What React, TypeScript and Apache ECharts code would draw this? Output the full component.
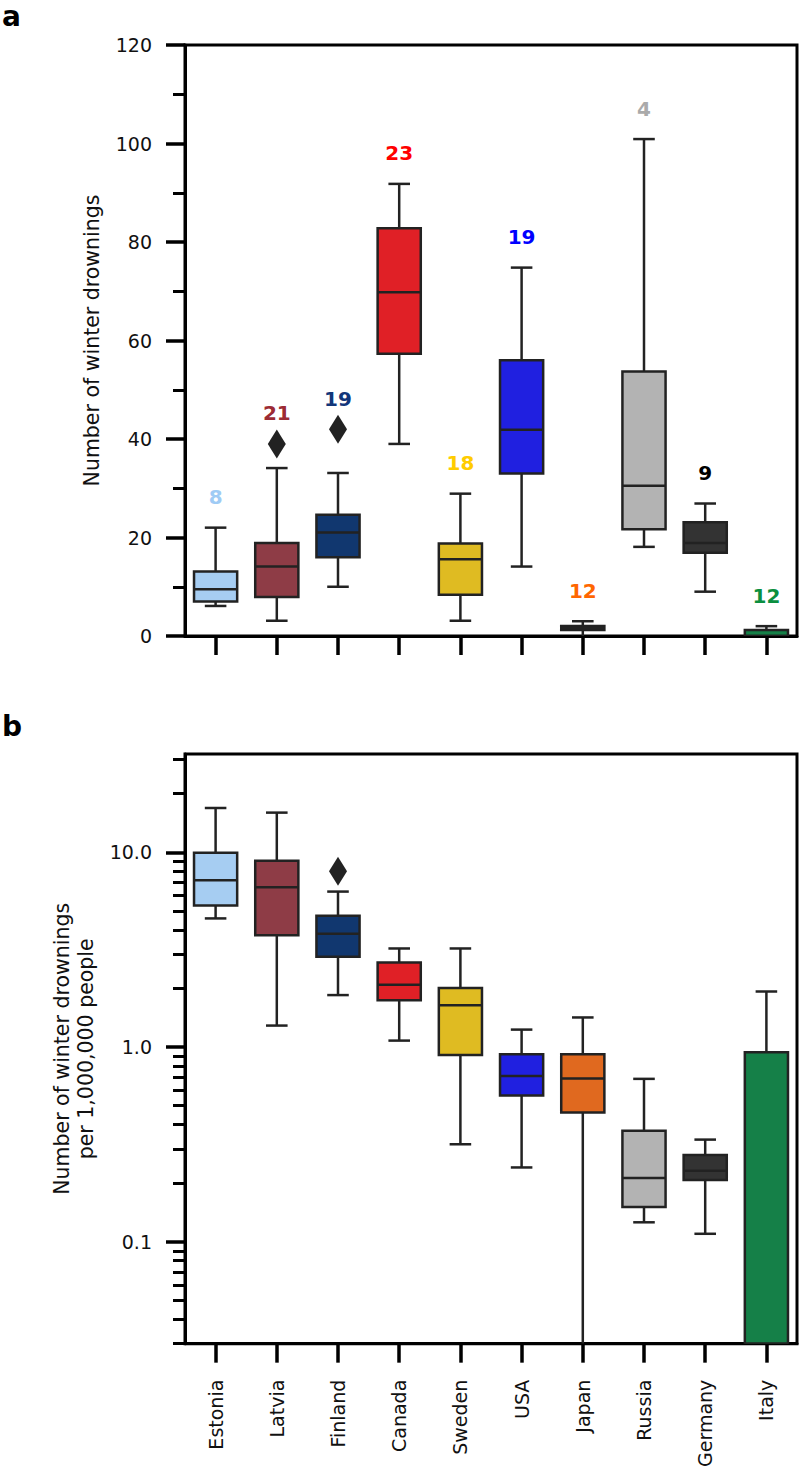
import { useEffect, useRef } from "react";
import * as echarts from "echarts";

const countries = ["Estonia", "Latvia", "Finland", "Canada", "Sweden", "USA", "Japan", "Russia", "Germany", "Italy"];
const boxColors = ["#a6cdf2", "#8e3c46", "#11376f", "#e02026", "#dfbb22", "#2020e0", "#e0691f", "#b3b3b3", "#333333", "#158048"];
const labelColors = ["#9fcbf5", "#9c2b34", "#12367a", "#ff0000", "#ffcc00", "#0000ff", "#ff6600", "#aaaaaa", "#000000", "#0b8f3f"];
const sampleCounts = [8, 21, 19, 23, 18, 19, 12, 4, 9, 12];

// Panel a: number of winter drownings
const drowningsMin = [6.1, 3.1, 10.0, 39.0, 3.1, 14.1, 0, 18.1, 9.0, 0];
const drowningsQ1 = [7.0, 7.9, 16.0, 57.3, 8.4, 33.0, 1.2, 21.7, 16.9, 0];
const drowningsMedian = [9.5, 14.1, 21.0, 69.8, 15.6, 41.9, 1.6, 30.5, 18.9, 0];
const drowningsQ3 = [13.1, 18.9, 24.6, 82.8, 18.8, 56.0, 2.05, 53.7, 23.1, 1.2];
const drowningsMax = [22.0, 34.1, 33.1, 91.8, 28.9, 74.8, 3.0, 100.9, 26.9, 2.0];
const drowningsOutlierCountries = ["Latvia", "Finland"];
const drowningsOutlierValues = [39.0, 42.0];
const drowningsTicks = { min: 0, max: 120, interval: 20 };

// Panel b: winter drownings per 1,000,000 people (log scale)
const rateMin = [4.58, 1.29, 1.85, 1.08, 0.317, 0.241, 0, 0.126, 0.11, 0];
const rateQ1 = [5.33, 3.75, 2.91, 1.74, 0.91, 0.565, 0.461, 0.151, 0.208, 0];
const rateMedian = [7.2, 6.62, 3.82, 2.09, 1.64, 0.71, 0.69, 0.213, 0.232, 0];
const rateQ3 = [9.95, 9.05, 4.73, 2.72, 2.01, 0.918, 0.92, 0.372, 0.279, 0.94];
const rateMax = [16.9, 16.0, 6.29, 3.21, 3.21, 1.23, 1.42, 0.687, 0.335, 1.93];
const rateOutlierCountries = ["Finland"];
const rateOutlierValues = [8.0];
const rateAxisMin = 0.03;
const rateAxisMax = 32;
const logMajorTicks = [0.1, 1, 10];
const logMinorTicks = [
  0.03, 0.04, 0.05, 0.06, 0.07, 0.08, 0.09,
  0.2, 0.3, 0.4, 0.5, 0.6, 0.7, 0.8, 0.9,
  2, 3, 4, 5, 6, 7, 8, 9,
  20, 30,
];

const FONT = "DejaVu Sans";
const EDGE = "#222222";
const TICK_FONT = 19;
const TITLE_FONT = 20.5;

function makeRenderItem(floor: number) {
  return (params: any, api: any) => {
    const i = api.value(0);
    const lo = api.value(1);
    const q1 = api.value(2);
    const med = api.value(3);
    const q3 = api.value(4);
    const hi = api.value(5);
    const pLo = api.coord([i, lo]);
    const pQ1 = api.coord([i, q1]);
    const pMed = api.coord([i, med]);
    const pQ3 = api.coord([i, q3]);
    const pHi = api.coord([i, hi]);
    const band = Math.abs(api.coord([1, q3])[0] - api.coord([0, q3])[0]);
    const bw = band * 0.705;
    const cw = bw / 2;
    const cx = pQ1[0];
    const lineStyle = { stroke: EDGE, lineWidth: 2.5, fill: null };
    const children: any[] = [
      { type: "line", shape: { x1: cx, y1: pQ1[1], x2: cx, y2: pLo[1] }, style: lineStyle },
      { type: "line", shape: { x1: cx, y1: pQ3[1], x2: cx, y2: pHi[1] }, style: lineStyle },
      {
        type: "rect",
        shape: { x: cx - bw / 2, y: pQ3[1], width: bw, height: pQ1[1] - pQ3[1] },
        style: { fill: boxColors[params.dataIndex], stroke: EDGE, lineWidth: 2.5 },
      },
      { type: "line", shape: { x1: cx - bw / 2, y1: pMed[1], x2: cx + bw / 2, y2: pMed[1] }, style: lineStyle },
      { type: "line", shape: { x1: cx - cw / 2, y1: pHi[1], x2: cx + cw / 2, y2: pHi[1] }, style: lineStyle },
    ];
    if (lo > floor) {
      children.push({ type: "line", shape: { x1: cx - cw / 2, y1: pLo[1], x2: cx + cw / 2, y2: pLo[1] }, style: lineStyle });
    }
    return { type: "group", children };
  };
}

export default function App() {
  const ref = useRef<HTMLDivElement>(null);

  useEffect(() => {
    if (!ref.current) return;
    const chart = echarts.init(ref.current, undefined, { renderer: "svg" });

    const boxDataA = countries.map((_, i) => [i, drowningsMin[i], drowningsQ1[i], drowningsMedian[i], drowningsQ3[i], drowningsMax[i]]);
    const clampLog = (v: number) => Math.max(v, rateAxisMin);
    const boxDataB = countries.map((_, i) => [
      i,
      clampLog(rateMin[i]),
      clampLog(rateQ1[i]),
      clampLog(rateMedian[i]),
      clampLog(rateQ3[i]),
      clampLog(rateMax[i]),
    ]);
    const outA = drowningsOutlierCountries.map((c, k) => [countries.indexOf(c), drowningsOutlierValues[k]]);
    const outB = rateOutlierCountries.map((c, k) => [countries.indexOf(c), rateOutlierValues[k]]);

    const topA = countries.map((c, i) => {
      let top = drowningsMax[i];
      drowningsOutlierCountries.forEach((oc, k) => {
        if (oc === c) top = Math.max(top, drowningsOutlierValues[k]);
      });
      return top;
    });
    const countLabels = countries.map((_, i) => ({
      value: [i, topA[i]],
      label: { color: labelColors[i] },
    }));

    const yTickStyle = { show: true, length: 19, lineStyle: { color: "#000", width: 3.5 } };
    const axisLineStyle = { show: true, lineStyle: { color: "#000", width: 3 } };

    const option: any = {
      animation: false,
      backgroundColor: "#ffffff",
      textStyle: { fontFamily: FONT },
      graphic: [
        { type: "text", left: 2, top: 2, style: { text: "a", font: `bold 28px "${FONT}"`, fill: "#000" } },
        { type: "text", left: 2, top: 712, style: { text: "b", font: `bold 28px "${FONT}"`, fill: "#000" } },
      ],
      grid: [
        { left: 185, top: 45, width: 612, height: 591, show: true, borderColor: "#000", borderWidth: 3, backgroundColor: "transparent" },
        { left: 185, top: 754, width: 612, height: 590, show: true, borderColor: "#000", borderWidth: 3, backgroundColor: "transparent" },
      ],
      xAxis: [
        {
          gridIndex: 0,
          type: "category",
          data: countries,
          axisLine: axisLineStyle,
          axisTick: { ...yTickStyle, alignWithLabel: true, interval: 0 },
          axisLabel: { show: false, interval: 0 },
          splitLine: { show: false },
        },
        {
          gridIndex: 1,
          type: "category",
          data: countries,
          axisLine: axisLineStyle,
          axisTick: { ...yTickStyle, alignWithLabel: true, interval: 0 },
          axisLabel: { rotate: 90, interval: 0, fontSize: TICK_FONT, color: "#111", margin: 36, fontFamily: FONT },
          splitLine: { show: false },
        },
      ],
      yAxis: [
        {
          gridIndex: 0,
          type: "value",
          min: drowningsTicks.min,
          max: drowningsTicks.max,
          interval: drowningsTicks.interval,
          axisLine: axisLineStyle,
          axisTick: yTickStyle,
          minorTick: { show: true, splitNumber: 2, length: 12, lineStyle: { color: "#000", width: 3 } },
          minorSplitLine: { show: false },
          splitLine: { show: false },
          axisLabel: { fontSize: TICK_FONT, color: "#111", margin: 33, fontFamily: FONT },
          name: "Number of winter drownings",
          nameLocation: "middle",
          nameGap: 83,
          nameTextStyle: { fontSize: TITLE_FONT, color: "#111", fontFamily: FONT },
        },
        {
          gridIndex: 1,
          type: "log",
          logBase: 10,
          min: rateAxisMin,
          max: rateAxisMax,
          axisLine: axisLineStyle,
          axisTick: { ...yTickStyle, customValues: logMajorTicks },
          splitLine: { show: false },
          axisLabel: {
            customValues: logMajorTicks,
            fontSize: TICK_FONT,
            color: "#111",
            margin: 33,
            fontFamily: FONT,
            formatter: (v: number) => Number(v).toFixed(1),
          },
          name: "Number of winter drownings\nper 1,000,000 people",
          nameLocation: "middle",
          nameGap: 87,
          nameTextStyle: { fontSize: TITLE_FONT, color: "#111", fontFamily: FONT, lineHeight: 24, align: "center" },
        },
        {
          gridIndex: 1,
          type: "log",
          logBase: 10,
          min: rateAxisMin,
          max: rateAxisMax,
          position: "left",
          offset: 0,
          axisLine: { show: false },
          axisTick: { show: true, length: 12, lineStyle: { color: "#000", width: 3 }, customValues: logMinorTicks },
          axisLabel: { show: false },
          splitLine: { show: false },
        },
      ],
      series: [
        {
          type: "custom",
          xAxisIndex: 0,
          yAxisIndex: 0,
          renderItem: makeRenderItem(drowningsTicks.min),
          encode: { x: 0, y: [1, 2, 3, 4, 5] },
          data: boxDataA,
          clip: true,
          z: 3,
        },
        {
          type: "scatter",
          xAxisIndex: 0,
          yAxisIndex: 0,
          symbol: "diamond",
          symbolSize: [18, 29],
          itemStyle: { color: EDGE, opacity: 1 },
          data: outA,
          z: 4,
        },
        {
          type: "scatter",
          xAxisIndex: 0,
          yAxisIndex: 0,
          symbolSize: 1,
          itemStyle: { color: "transparent", opacity: 1 },
          label: {
            show: true,
            position: "top",
            distance: 20,
            fontSize: 20,
            fontWeight: "bold",
            fontFamily: FONT,
            opacity: 1,
            formatter: (p: any) => String(sampleCounts[p.dataIndex]),
          },
          data: countLabels,
          z: 5,
        },
        {
          type: "custom",
          xAxisIndex: 1,
          yAxisIndex: 1,
          renderItem: makeRenderItem(rateAxisMin),
          encode: { x: 0, y: [1, 2, 3, 4, 5] },
          data: boxDataB,
          clip: true,
          z: 3,
        },
        {
          type: "scatter",
          xAxisIndex: 1,
          yAxisIndex: 1,
          symbol: "diamond",
          symbolSize: [18, 29],
          itemStyle: { color: EDGE, opacity: 1 },
          data: outB,
          z: 4,
        },
      ],
    };

    chart.setOption(option);
    return () => chart.dispose();
  }, []);

  return (
    <div
      ref={ref}
      style={{ position: "absolute", left: 0, top: 0, width: 800, height: 1470, background: "#fff" }}
    />
  );
}
